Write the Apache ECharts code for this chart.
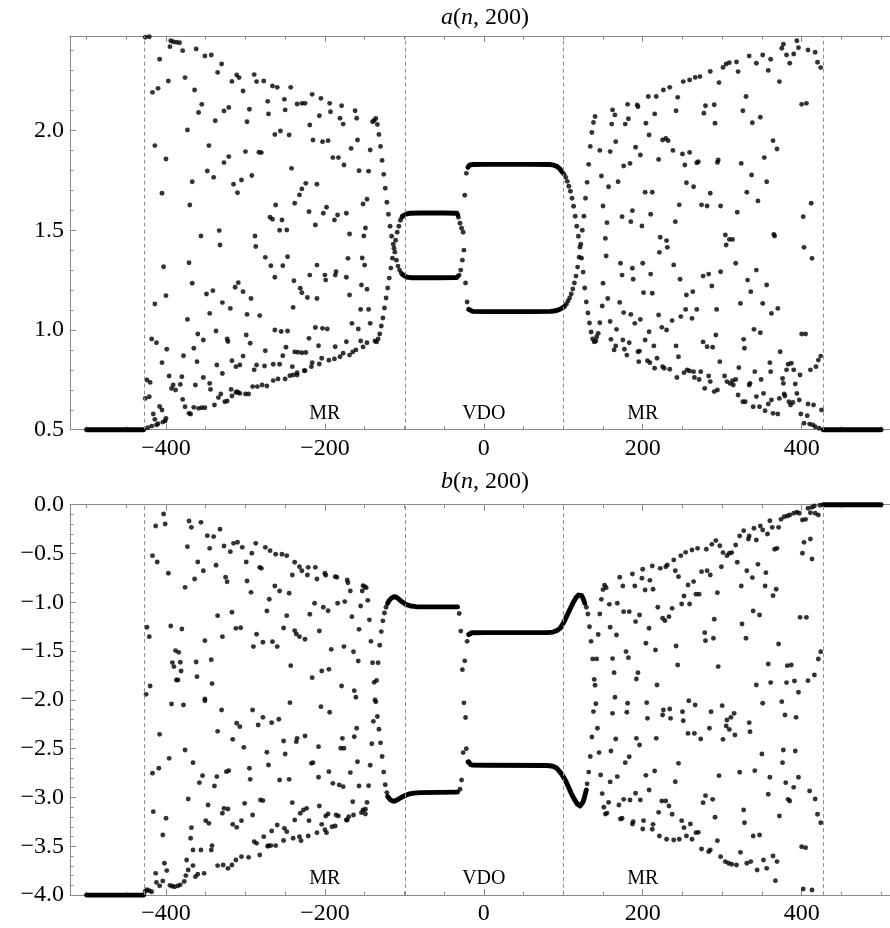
<!DOCTYPE html>
<html><head><meta charset="utf-8">
<script src="https://cdn.jsdelivr.net/npm/echarts@6/dist/echarts.min.js"></script>
<style>html,body{margin:0;padding:0;background:#fff}#c{width:890px;height:928px}</style>
</head><body><div id="c"></div>
<script>
// ---------------- axis / tick data ----------------
const xMin = -520.8, xMax = 511.2;
const xMajor = [-400, -200, 0, 200, 400];
const xMinor = [-500, -450, -350, -300, -250, -150, -100, -50, 50, 100, 150, 250, 300, 350, 450, 500];
const aMin = 0.5, aMax = 2.4735;
const aMajor = [0.5, 1.0, 1.5, 2.0];
const aMinor = [0.6, 0.7, 0.8, 0.9, 1.1, 1.2, 1.3, 1.4, 1.6, 1.7, 1.8, 1.9, 2.1, 2.2, 2.3, 2.4];
const bMin = -4, bMax = 0;
const bMajor = [-4, -3.5, -3, -2.5, -2, -1.5, -1, -0.5, 0];
const bMinor = [-3.9, -3.8, -3.7, -3.6, -3.4, -3.3, -3.2, -3.1, -2.9, -2.8, -2.7, -2.6, -2.4, -2.3, -2.2, -2.1, -1.9, -1.8, -1.7, -1.6, -1.4, -1.3, -1.2, -1.1, -0.9, -0.8, -0.7, -0.6, -0.4, -0.3, -0.2, -0.1];
const regionBounds = [-427.5, -99.5, 99.5, 427.5];
const regionNames = ['MR', 'VDO', 'MR'];
const regionCenters = [-200, 0, 200];

// ---------------- a(n,200) ----------------
const aFlatLeft = [[-500, 0.5], [-428, 0.5]];
const aFlatRight = [[427, 0.5], [500, 0.5]];
const aLoopLeftUpper = [[-102, 1.572], [-100, 1.578], [-97, 1.582], [-93, 1.585], [-80, 1.586], [-50, 1.586], [-34, 1.585], [-33, 1.578]];
const aLoopLeftLower = [[-102, 1.277], [-100, 1.27], [-97, 1.265], [-92, 1.262], [-60, 1.262], [-34, 1.263], [-33, 1.268]];
const aLoopRightUpper = [[-20, 1.815], [-18, 1.826], [-15, 1.829], [0, 1.83], [60, 1.83], [84, 1.829], [88, 1.826], [92, 1.82], [96, 1.806], [99, 1.79]];
const aLoopRightLower = [[-19, 1.103], [-17, 1.096], [-14, 1.093], [0, 1.092], [60, 1.092], [84, 1.093], [88, 1.095], [92, 1.098], [96, 1.104], [100, 1.113]];
const aSteep = [
 [-138,2.05],[-136,2.06],[-134,2.03],[-132,1.98],[-130,1.92],[-128,1.85],[-126,1.78],[-124,1.71],[-122,1.64],[-120,1.58],[-118,1.52],[-116,1.47],[-114,1.43],[-112,1.39],[-110,1.35],[-108,1.32],[-106,1.30],[-104,1.285],
 [-137,0.945],[-135,0.94],[-133,0.955],[-131,0.98],[-129,1.02],[-127,1.06],[-125,1.11],[-123,1.16],[-121,1.21],[-119,1.26],[-117,1.31],[-115,1.36],[-113,1.41],[-111,1.45],[-109,1.49],[-107,1.52],[-105,1.55],[-103,1.565],
 [-32,1.565],[-31,1.275],[-30,1.535],[-29,1.30],[-28,1.51],[-27,1.35],[-26,1.49],[-25,1.40],[-24,1.675],[-23,1.235],[-22,1.785],[-21,1.14],
 [101,1.78],[103,1.765],[105,1.745],[107,1.72],[109,1.695],[111,1.66],[113,1.62],[115,1.57],[117,1.52],[119,1.47],[121,1.415],[123,1.36],[125,1.29],[127,1.21],[129,1.14],[131,1.085],[133,1.035],[135,0.99],[137,0.955],[139,0.94],[141,0.945],
 [102,1.12],[104,1.13],[106,1.145],[108,1.16],[110,1.18],[112,1.205],[114,1.235],[116,1.27],[118,1.315],[120,1.365],[122,1.43],[124,1.50],[126,1.57],[128,1.66],[130,1.74],[132,1.83],[134,1.92],[136,1.99],[138,2.04],[140,2.07]
];
const aChaosLeft = [
 [-426,2.467],[-421,2.47],[-394,2.45],[-391,2.445],[-387,2.442],[-383,2.44],[-395,2.42],[-379,2.40],[-362,2.408],[-351,2.373],[-343,2.378],[-335,2.291],[-330,2.333],[-317,2.246],[-311,2.278],[-308,2.265],[-289,2.28],[-286,2.245],[-277,2.248],[-266,2.223],[-260,2.216],[-243,2.216],[-216,2.181],[-205,2.161],[-194,2.136],[-179,2.124],[-162,2.099],
 [-408,2.357],[-417,2.191],[-410,2.211],[-397,2.248],[-376,2.265],[-364,2.203],[-355,2.131],[-359,2.09],[-338,2.049],[-327,2.098],[-321,2.115],[-303,2.198],[-295,2.106],[-298,2.044],[-272,2.146],[-271,2.083],[-251,2.156],[-250,2.103],[-235,2.133],[-229,2.136],[-225,2.136],[-219,2.027],[-207,2.074],[-193,2.094],[-181,2.061],[-177,2.032],[-160,2.061],[-140,2.044],
 [-373,2.002],[-346,1.924],[-414,1.924],[-400,1.857],[-367,1.743],[-370,1.626],[-405,1.685],[-403,1.317],[-371,1.337],[-356,1.471],[-348,1.797],[-340,1.765],[-333,1.498],[-332,1.426],[-327,1.839],[-321,1.869],[-315,1.73],[-310,1.688],[-305,1.752],[-300,1.894],[-292,1.774],[-283,1.891],[-280,1.889],[-288,1.471],[-287,1.418],[-275,1.364],[-268,1.322],[-263,1.98],[-256,1.997],[-245,1.977],[-242,1.81],[-262,1.626],[-269,1.565],[-254,1.551],[-248,1.501],[-253,1.322],[-247,1.367],[-238,1.635],[-232,1.677],[-229,1.707],[-224,1.735],[-220,1.593],[-215,1.952],[-212,1.526],[-210,1.73],[-203,1.944],[-196,1.949],[-202,1.585],[-198,1.615],[-190,1.864],[-183,1.864],[-188,1.551],[-184,1.576],[-176,1.827],[-173,1.585],[-169,1.481],[-171,1.359],[-167,1.91],[-159,1.952],[-157,1.798],[-152,1.631],[-147,1.655],[-149,1.511],[-151,1.471],[-153,1.361],[-150,1.325],[-145,1.796],[-143,1.902],[-210,1.325],[-266,1.555],[-257,1.50],
 [-367,1.234],[-349,1.18],[-341,1.197],[-313,1.214],[-309,1.237],[-303,1.192],[-293,1.158],[-329,1.137],[-319,1.108],[-345,1.083],[-298,1.078],[-282,1.072],[-263,1.264],[-240,1.113],[-239,1.247],[-231,1.209],[-229,1.187],[-222,1.163],[-210,1.158],[-219,1.275],[-200,1.275],[-199,1.25],[-187,1.275],[-186,1.292],[-173,1.264],[-169,1.175],[-154,1.225],[-147,1.204],[-155,1.103],[-145,1.103],
 [-414,1.13],[-400,1.172],[-373,1.053],[-360,0.98],[-353,0.95],[-337,0.995],[-299,0.975],[-294,0.933],[-263,1.0],[-255,0.992],[-247,0.995],[-212,1.012],[-203,1.008],[-197,1.005],[-166,1.033],[-158,1.005],[-143,1.033],
 [-418,0.955],[-412,0.936],[-399,0.903],[-365,0.908],[-323,0.955],[-322,0.942],[-275,0.896],[-249,0.913],[-238,0.89],[-234,0.888],[-229,0.886],[-224,0.887],[-220,0.958],[-208,0.921],[-187,0.916],[-173,0.941],[-161,0.90],[-155,0.945],[-147,0.936],
 [-405,0.836],[-378,0.871],[-361,0.841],[-336,0.824],[-329,0.782],[-317,0.846],[-312,0.816],[-307,0.824],[-303,0.869],[-289,0.80],[-286,0.824],[-276,0.819],[-265,0.828],[-257,0.828],[-253,0.871],[-241,0.816],[-240,0.774],[-235,0.786],[-225,0.796],[-217,0.816],[-216,0.836],[-207,0.829],[-204,0.858],[-181,0.866],[-177,0.883],[-169,0.874],
 [-396,0.769],[-380,0.766],[-363,0.724],[-353,0.762],[-345,0.732],[-344,0.702],[-318,0.702],[-311,0.691],[-307,0.682],[-300,0.679],[-296,0.679],[-291,0.716],[-285,0.716],[-279,0.724],[-273,0.719],[-265,0.746],[-259,0.754],[-250,0.754],[-244,0.771],[-235,0.774],[-226,0.796],
 [-426,0.657],[-421,0.665],[-424,0.749],[-420,0.737],[-408,0.616],[-405,0.599],[-416,0.579],[-414,0.552],[-412,0.524],[-401,0.544],[-400,0.557],
 [-393,0.707],[-391,0.724],[-388,0.699],[-382,0.727],[-379,0.652],[-376,0.615],[-371,0.582],[-369,0.579],[-365,0.612],[-359,0.607],[-355,0.61],[-351,0.61],[-339,0.624],[-334,0.661],[-331,0.679],[-326,0.64],[-323,0.644],[-317,0.669],[-312,0.686],[-309,0.687],
 [-423,0.51],[-418,0.518],[-410,0.53],[-404,0.538],[-195,0.848],[-188,0.855],[-165,0.89],[-152,0.915]
];
const aChaosRight = [
 [394,2.45],[377,2.432],[375,2.412],[381,2.378],[390,2.383],[385,2.337],[396,2.415],[408,2.403],[417,2.392],[420,2.342],[424,2.315],
 [334,2.373],[343,2.337],[351,2.378],[361,2.357],[358,2.301],[372,2.245],[301,2.316],[305,2.333],[309,2.34],[318,2.343],[320,2.295],[296,2.24],[285,2.296],
 [272,2.27],[266,2.266],[259,2.253],[251,2.245],[244,2.166],[234,2.216],[226,2.203],[217,2.17],[207,2.17],[194,2.119],[193,2.128],[181,2.131],[162,2.103],[165,2.078],[178,2.032],[182,2.059],[161,2.032],
 [146,1.90],[159,1.894],[166,1.944],[191,1.916],[197,1.877],[204,2.036],[208,1.977],[215,2.083],[225,1.952],[229,1.96],[232,1.949],[238,1.90],[242,2.099],[250,1.882],[253,1.827],[259,1.89],[268,1.838],[270,1.843],[277,2.086],[279,2.124],[290,2.129],[291,2.036],[295,1.852],[324,1.835],[326,2.099],[330,2.17],[338,2.039],[348,2.066],[364,1.949],[369,1.907],[353,1.864],[400,2.131],[406,2.136],
 [148,1.772],[157,1.718],[169,1.743],[176,1.822],[184,1.835],[203,1.69],[212,1.69],[220,1.855],[255,1.738],[264,1.718],[285,1.685],[294,1.84],[331,1.69],[337,1.777],[345,1.647],[356,1.743],[365,1.479],[366,1.471],[412,1.635],[402,1.568],[403,1.414],[413,1.359],
 [150,1.621],[155,1.538],[174,1.568],[187,1.598],[185,1.543],[199,1.521],[210,1.58],[241,1.543],[246,1.627],[274,1.627],[281,1.621],[298,1.621],[319,1.59],[304,1.476],[309,1.454],[305,1.426],[313,1.454],
 [222,1.465],[230,1.448],[231,1.414],[221,1.389],[153,1.459],[154,1.371],[172,1.334],[187,1.309],[200,1.334],[239,1.326],[317,1.334],[343,1.30],
 [150,1.234],[174,1.275],[188,1.254],[210,1.28],[201,1.187],[212,1.184],[247,1.254],[276,1.27],[283,1.28],[287,1.22],[298,1.292],[332,1.25],[356,1.225],[336,1.192],[323,1.133],[351,1.133],[362,1.083],[370,1.108],[400,0.98],[405,0.98],
 [149,1.12],[156,1.158],[171,1.138],[176,1.087],[185,1.078],[190,1.033],[197,1.053],[220,1.075],[224,1.013],[230,1.0],[237,1.047],[248,1.067],[254,1.103],[262,1.058],[255,1.175],[263,1.192],[268,1.103],[293,1.103],[292,0.975],[276,0.94],[281,0.916],[288,0.913],[297,0.841],[327,0.953],[328,0.908],[340,1.003],[348,0.986],
 [142,0.966],[144,0.983],[146,1.036],
 [159,1.042],[167,1.003],[160,0.953],[164,0.90],[166,0.92],[175,0.95],[183,0.936],[177,0.903],[180,0.874],[194,0.891],[196,0.894],[203,0.95],[208,0.991],[214,0.92],[195,0.841],[206,0.846],[209,0.836],[218,0.858],[215,0.808],[225,0.816],[227,0.808],[234,0.803],[242,0.92],[245,0.866],[243,0.762],
 [252,0.786],[256,0.80],[259,0.794],[264,0.791],[265,0.762],[271,0.752],[273,0.791],[278,0.707],[283,0.769],[285,0.741],[290,0.691],[294,0.699],
 [303,0.769],[306,0.741],[310,0.732],[313,0.746],[317,0.752],[314,0.724],[320,0.674],[321,0.811],[326,0.64],[329,0.64],[334,0.724],[335,0.732],[339,0.615],[347,0.615],[341,0.791],[343,0.666],[349,0.752],[352,0.682],[354,0.595],[360,0.836],[361,0.791],[358,0.629],[362,0.649],[364,0.582],[370,0.579],[373,0.891],[372,0.657],[376,0.757],[377,0.732],[378,0.679],[379,0.669],[381,0.80],[383,0.828],[387,0.833],[384,0.64],[386,0.624],[389,0.636],[390,0.80],[392,0.729],[394,0.682],[397,0.649],[398,0.774],[399,0.579],[403,0.532],[407,0.57],[410,0.528],[411,0.80],[408,0.629],[415,0.624],[425,0.599],[414,0.524],[417,0.515],[422,0.507],[418,0.816],[421,0.849],[424,0.869]
];

// ---------------- b(n,200) ----------------
const bFlatLeft = [[-500, -4], [-428, -4]];
const bFlatRight = [[427, 0], [500, 0]];
const bLoopLeftUpper = [[-121, -1.01], [-119, -0.98], [-116, -0.955], [-113, -0.943], [-110, -0.948], [-107, -0.968], [-103, -0.995], [-98, -1.022], [-92, -1.038], [-85, -1.045], [-60, -1.047], [-33, -1.047]];
const bLoopLeftLower = [[-121, -2.99], [-118, -3.02], [-115, -3.036], [-112, -3.036], [-108, -3.02], [-104, -3.0], [-99, -2.98], [-94, -2.963], [-88, -2.955], [-80, -2.95], [-33, -2.945]];
const bLoopRightUpper = [[-19, -1.33], [-17, -1.315], [-15, -1.312], [0, -1.311], [80, -1.311], [87, -1.305], [92, -1.29], [96, -1.267], [100, -1.215], [104, -1.147], [108, -1.079], [112, -1.01], [116, -0.953], [119, -0.926], [121, -0.918], [123, -0.93], [125, -0.96], [127, -1.01]];
const bLoopRightLower = [[-19, -2.635], [-17, -2.66], [-14, -2.668], [0, -2.67], [80, -2.672], [87, -2.68], [92, -2.70], [94, -2.718], [97, -2.75], [100, -2.786], [103, -2.83], [106, -2.882], [110, -2.957], [114, -3.02], [118, -3.07], [121, -3.087], [123, -3.075], [125, -3.043], [127, -2.99], [129, -2.923]];
const bSteep = [
 [-148,-0.85],[-146,-0.98],[-144,-1.18],[-142,-1.40],[-140,-1.62],[-138,-1.82],[-136,-2.02],[-134,-2.17],[-132,-2.30],[-130,-2.44],[-128,-2.58],[-126,-2.74],[-124,-2.87],[-122,-2.95],
 [-149,-3.12],[-147,-3.05],[-145,-2.88],[-143,-2.67],[-141,-2.45],[-139,-2.22],[-137,-2.00],[-135,-1.80],[-133,-1.62],[-131,-1.44],[-129,-1.30],[-127,-1.19],[-125,-1.11],[-123,-1.05],
 [-31,-1.115],[-30,-2.915],[-29,-1.295],[-28,-2.82],[-27,-1.69],[-26,-2.54],[-25,-2.03],[-24,-1.60],[-23,-2.18],[-22,-2.50],[-21,-1.40],[-20,-2.635],
 [129,-1.05],[131,-1.12],[133,-1.25],[135,-1.40],[137,-1.58],[139,-1.79],[141,-2.04],[143,-2.29],[145,-2.54],[147,-2.77],[149,-2.96],[151,-3.10],[153,-3.17],[155,-3.16],[157,-3.05],[159,-2.84],
 [130,-2.86],[132,-2.74],[134,-2.58],[136,-2.38],[138,-2.12],[140,-1.85],[142,-1.58],[144,-1.33],[146,-1.12],[148,-0.97],[150,-0.87],[152,-0.825],[154,-0.85]
];
const bChaosLeft = [
 [-403,-0.095],[-413,-0.218],[-401,-0.198],[-371,-0.167],[-368,-0.232],[-356,-0.181],[-348,-0.317],[-340,-0.327],[-332,-0.252],
 [-417,-0.522],[-411,-0.587],[-397,-0.703],[-373,-0.43],[-376,-0.847],[-360,-0.587],[-364,-0.761],[-353,-0.676],[-345,-0.447],[-337,-0.621],[-327,-0.423],[-319,-0.481],[-325,-0.744],[-323,-0.789],[-315,-0.396],[-310,-0.385],[-304,-0.437],[-299,-0.587],[-292,-0.498],[-287,-0.396],[-298,-0.782],[-293,-0.898],[-282,-0.642],[-280,-0.652],
 [-275,-0.437],[-269,-0.471],[-262,-0.508],[-254,-0.508],[-248,-0.522],[-263,-0.833],[-257,-0.884],[-245,-0.908],[-241,-0.72],[-238,-0.59],[-232,-0.635],[-229,-0.676],[-222,-0.72],[-221,-0.642],[-212,-0.642],[-210,-0.761],[-200,-0.703],[-199,-0.723],[-187,-0.737],[-185,-0.744],[-172,-0.771],[-171,-0.799],[-152,-0.829],[-150,-0.84],
 [-168,-0.884],[-153,-0.884],[-175,-0.993],[-184,-1.01],[-196,-1.086],[-202,-1.051],[-213,-1.01],[-219,-1.123],[-207,-1.294],[-225,-1.379],[-232,-1.352],[-236,-1.325],[-238,-1.29],[-248,-1.137],[-252,-1.263],[-270,-0.969],[-273,-1.089],[-286,-1.328],[-278,-1.41],[-266,-1.403],[-260,-1.454],[-290,-1.454],[-306,-1.26],[-312,-1.267],[-317,-1.102],[-329,-1.352],[-335,-1.137],[-351,-1.393],[-343,-1.588],[-342,-1.833],[-351,-1.99],[-362,-1.611],[-361,-1.762],[-382,-1.615],[-381,-1.704],[-387,-1.796],[-385,-1.796],[-388,-1.495],[-384,-1.513],[-392,-1.618],[-390,-1.659],[-380,-1.273],[-394,-1.243],[-421,-1.352],[-424,-1.256],[-420,-1.857],[-425,-1.943],
 [-243,-1.649],[-216,-1.772],[-204,-1.704],[-195,-1.687],[-192,-1.482],[-179,-1.857],[-176,-1.454],[-164,-1.506],[-163,-1.905],[-161,-1.973],[-158,-1.601],[-166,-1.147],[-157,-1.277],[-155,-1.038],
 [-393,-2.042],[-378,-2.052],[-351,-2.008],[-330,-2.103],[-291,-2.103],[-244,-2.028],[-205,-2.069],[-194,-2.127],
 [-408,-2.353],[-417,-2.752],[-409,-2.701],[-396,-2.599],[-376,-2.513],[-366,-2.643],[-354,-2.776],[-358,-2.848],[-339,-2.882],[-335,-2.322],[-316,-2.404],[-311,-2.24],[-307,-2.274],[-302,-2.486],[-284,-2.257],[-278,-2.179],[-267,-2.233],[-258,-2.199],[-273,-2.537],[-271,-2.667],[-295,-2.701],[-294,-2.814],[-324,-2.735],[-321,-2.725],[-327,-3.111],[-329,-3.162],[-347,-3.077],[-350,-3.237],[-346,-3.265],[-322,-3.118],[-316,-3.275],[-311,-3.306],[-305,-3.237],[-301,-3.06],[-291,-3.179],[-289,-3.452],[-286,-3.47],[-281,-3.026],[-278,-3.032],[-277,-3.401],[-271,-3.493],[-268,-3.493],[-267,-3.343],[-262,-3.493],[-260,-3.282],[-257,-2.821],[-252,-2.421],[-250,-2.554],[-245,-2.814],[-251,-3.316],[-248,-3.35],[-241,-3.053],[-238,-3.23],[-231,-3.162],[-227,-3.128],[-223,-3.111],[-232,-3.401],[-240,-3.418],[-230,-3.442],[-221,-3.394],[-220,-3.237],[-217,-2.65],[-208,-2.793],[-207,-3.087],[-204,-3.275],[-199,-3.189],[-196,-3.169],[-198,-3.36],[-195,-2.735],[-190,-2.855],[-182,-2.872],[-177,-2.889],[-186,-3.179],[-183,-3.189],[-187,-3.292],[-180,-2.496],[-173,-3.23],[-170,-3.196],[-168,-2.745],[-165,-3.043],[-163,-2.377],[-160,-2.291],[-159,-2.633],[-157,-2.882],[-152,-3.128],[-149,-3.169],[-208,-2.479],[-236,-2.428],[-235,-2.394],[-225,-2.37],[-215,-2.643],[-178,-2.394],[-176,-2.496],[-336,-2.786],
 [-372,-3.015],[-368,-3.309],[-369,-3.418],[-366,-3.538],[-356,-3.538],[-342,-3.493],[-343,-3.538],[-374,-3.64],[-366,-3.698],[-416,-3.145],[-404,-3.384],[-400,-3.213],[-402,-3.674],[-399,-3.749],[-413,-3.777],[-372,-3.743],[-363,-3.811],[-360,-3.787],[-352,-3.777],
 [-335,-3.698],[-328,-3.691],[-322,-3.726],[-317,-3.691],[-312,-3.64],[-305,-3.606],[-296,-3.613],[-282,-3.589],[-272,-3.50],[-252,-3.44],[-210,-3.36],[-200,-3.33],[-191,-3.30],[-172,-3.23],[-164,-3.18],[-154,-3.155],
 [-426,-3.96],[-424,-3.945],[-421,-3.955],[-418,-3.965],[-412,-3.87],[-408,-3.905],[-404,-3.855],[-395,-3.90],[-392,-3.91],[-389,-3.915],[-385,-3.905],[-382,-3.895],[-377,-3.86],[-375,-3.80]
];
const bChaosRight = [
 [158,-1.021],[159,-1.256],[162,-1.577],[164,-1.721],[165,-1.973],[167,-1.335],[168,-1.01],[171,-0.744],[175,-0.833],[176,-1.096],[183,-1.096],[179,-1.505],[182,-1.567],[187,-0.71],[190,-0.833],[192,-1.786],[194,-1.721],[196,-1.13],[191,-1.198],[199,-0.754],[200,-0.662],[203,-0.874],[209,-0.775],[204,-1.42],[208,-1.266],[212,-0.628],[213,-0.867],[216,-1.488],[218,-1.847],[219,-1.051],[222,-0.652],[229,-0.635],[231,-0.618],[225,-1.164],[228,-1.188],[233,-1.147],[237,-1.062],[239,-0.567],[241,-0.676],[245,-0.737],[242,-1.447],[244,-1.642],[248,-0.522],[249,-1.017],[252,-0.935],[254,-0.488],[257,-0.823],[259,-1.017],[262,-0.464],[264,-0.788],[267,-0.918],[271,-0.918],[269,-0.447],[274,-0.686],[280,-0.457],[281,-0.676],[285,-0.72],[278,-1.311],[279,-1.393],[290,-1.174],[289,-1.369],[287,-0.406],[292,-0.368],[294,-0.901],[295,-1.659],[297,-0.42],[299,-0.635],[301,-0.491],[306,-0.522],[309,-0.498],[312,-0.491],[317,-0.413],[319,-0.59],[322,-0.32],[327,-0.266],[324,-0.833],[325,-1.222],[330,-1.369],[331,-0.676],[333,-0.351],[334,-0.32],[338,-0.747],[339,-1.089],[340,-0.242],[343,-0.362],[343,-1.847],[345,-0.611],[347,-1.13],[348,-0.218],[351,-0.259],[354,-0.833],[355,-0.696],[357,-0.30],[360,-0.164],[358,-1.632],[361,-1.823],[363,-0.232],[371,-0.232],[364,-0.932],[366,-0.457],[369,-0.447],[368,-0.867],[371,-1.427],[374,-0.15],[378,-0.123],[382,-0.116],[385,-0.106],[390,-0.088],[394,-0.078],[397,-0.088],[382,-1.649],[387,-1.642],[381,-1.823],[391,-1.806],[396,-1.922],[398,-1.154],[406,-1.154],[401,-0.498],[403,-0.386],[401,-0.157],[405,-0.15],[408,-0.037],[411,-0.082],[413,-0.027],[416,-0.013],[411,-0.351],[413,-0.556],[417,-0.088],[421,-0.106],[408,-1.803],[416,-1.745],[421,-1.581],[424,-1.506],[423,-0.005],
 [160,-2.524],[162,-2.138],[166,-2.401],[168,-2.786],[170,-3.077],[172,-3.22],[174,-3.213],[176,-3.019],[178,-2.643],[183,-2.582],[180,-2.127],[181,-2.035],[184,-3.026],[187,-3.271],[188,-3.248],[191,-2.957],[192,-2.394],[196,-2.462],[197,-3.026],[201,-3.237],[200,-3.323],[204,-2.773],[205,-2.028],[206,-2.189],[208,-2.923],[212,-3.326],[213,-3.275],[215,-2.728],[217,-2.394],[220,-3.152],[221,-3.394],[224,-3.036],[229,-3.036],[226,-2.103],[234,-2.093],[225,-2.155],[235,-2.189],[230,-3.428],[233,-3.087],[237,-3.172],[239,-3.435],[246,-3.428],[241,-2.838],[245,-2.65],[249,-3.237],[250,-2.121],[251,-2.213],[252,-3.309],[255,-3.394],[257,-2.343],[258,-2.008],[260,-3.271],[262,-3.428],[265,-2.343],[266,-2.052],[267,-3.36],[270,-3.357],[273,-2.401],[274,-3.528],[276,-3.053],[279,-2.981],[283,-3.555],[285,-3.538],[284,-2.291],[286,-2.121],[288,-3.019],[291,-3.203],[294,-3.442],[296,-2.776],[298,-3.606],[300,-2.059],[301,-2.404],[304,-3.657],[308,-3.674],[312,-3.684],[318,-3.691],[306,-2.206],[311,-2.179],[315,-2.138],[305,-2.267],[309,-2.302],[316,-2.36],[322,-2.742],[323,-3.562],[327,-3.128],[328,-3.258],[331,-3.674],[336,-3.657],[334,-2.233],[335,-2.326],[339,-3.394],[347,-3.384],[341,-2.725],[344,-3.743],[350,-2.554],[351,-2.035],[352,-3.64],[356,-3.726],[358,-2.967],[360,-2.793],[364,-3.599],[367,-3.852],[369,-3.657],[372,-3.189],[375,-2.018],[376,-2.643],[377,-2.513],[379,-2.155],[380,-2.848],[383,-3.019],[385,-3.036],[390,-2.896],[392,-2.524],[393,-2.179],[396,-2.793],[400,-3.504],[405,-3.514],[402,-3.937],[413,-3.947],[410,-2.933],[417,-3.015],[420,-3.172],[424,-3.258]
];

// ---------------- chart ----------------
const SERIF = "'Liberation Serif','Times New Roman',serif";
const AX = '#8a8a8a';
const DOT = 4.9;
const fmtX = v => (v < 0 ? '\u2212' : '') + Math.abs(v);
const fmtY = v => (v < 0 ? '\u2212' : '') + Math.abs(v).toFixed(1);

function xAxes(g) {
  const base = {type: 'value', gridIndex: g, min: xMin, max: xMax, splitLine: {show: false}};
  return [
    Object.assign({}, base, {position: 'bottom', axisLine: {show: true, onZero: false, lineStyle: {color: AX, width: 1}},
      axisTick: {show: true, inside: true, length: 6, customValues: xMajor, lineStyle: {color: AX}},
      axisLabel: {show: true, customValues: xMajor, formatter: fmtX, margin: 7, fontSize: 24, fontFamily: SERIF, color: '#000'}}),
    Object.assign({}, base, {position: 'bottom', axisLine: {show: false, onZero: false},
      axisTick: {show: true, inside: true, length: 3.5, customValues: xMinor, lineStyle: {color: AX}}, axisLabel: {show: false}}),
    Object.assign({}, base, {position: 'top', axisLine: {show: true, onZero: false, lineStyle: {color: AX, width: 1}},
      axisTick: {show: true, inside: true, length: 6, customValues: xMajor, lineStyle: {color: AX}}, axisLabel: {show: false}}),
    Object.assign({}, base, {position: 'top', axisLine: {show: false, onZero: false},
      axisTick: {show: true, inside: true, length: 3.5, customValues: xMinor, lineStyle: {color: AX}}, axisLabel: {show: false}})
  ];
}
function yAxes(g, min, max, major, minor) {
  const base = {type: 'value', gridIndex: g, min: min, max: max, position: 'left', splitLine: {show: false}};
  return [
    Object.assign({}, base, {axisLine: {show: true, onZero: false, lineStyle: {color: AX, width: 1}},
      axisTick: {show: true, inside: true, length: 6, customValues: major, lineStyle: {color: AX}},
      axisLabel: {show: true, customValues: major, formatter: fmtY, margin: 6, fontSize: 24, fontFamily: SERIF, color: '#000'}}),
    Object.assign({}, base, {axisLine: {show: false, onZero: false},
      axisTick: {show: true, inside: true, length: 3.5, customValues: minor, lineStyle: {color: AX}}, axisLabel: {show: false}})
  ];
}
function lineS(data, xi, yi) {
  return {type: 'line', data: data, xAxisIndex: xi, yAxisIndex: yi, symbol: 'none', showSymbol: false, clip: false, silent: true,
    lineStyle: {color: '#000', width: DOT, cap: 'round', join: 'round'}, z: 3};
}
function dotS(data, xi, yi, withBounds) {
  const s = {type: 'scatter', data: data, xAxisIndex: xi, yAxisIndex: yi, symbol: 'circle', symbolSize: DOT, clip: false, silent: true,
    itemStyle: {color: '#000'}, z: 4};
  if (withBounds) {
    s.markLine = {silent: true, symbol: ['none', 'none'], label: {show: false}, animation: false,
      lineStyle: {color: '#8f8f8f', type: [4, 3], width: 1}, emphasis: {disabled: true},
      data: regionBounds.map(x => ({xAxis: x}))};
  }
  return s;
}
function labelS(xi, yi, yVal) {
  return {type: 'scatter', xAxisIndex: xi, yAxisIndex: yi, symbol: 'circle', symbolSize: 2, silent: true, clip: false, z: 5,
    itemStyle: {color: 'rgba(255,255,255,0)'},
    data: regionCenters.map((n, i) => ({value: [n, yVal], name: regionNames[i]})),
    label: {show: true, position: 'inside', formatter: '{b}', color: '#000', fontFamily: SERIF, fontSize: 20, opacity: 1}};
}

const titleRich = {i: {fontStyle: 'italic', fontFamily: SERIF, fontSize: 24, color: '#000'}, r: {fontFamily: SERIF, fontSize: 24, color: '#000'}};
const option = {
  animation: false,
  backgroundColor: '#fff',
  title: [
    {text: '{i|a}{r|(}{i|n}{r|, 200)}', left: 485, top: 6, textAlign: 'center', padding: 0, textStyle: {fontFamily: SERIF, fontSize: 24, fontWeight: 'normal', color: '#000', rich: titleRich}},
    {text: '{i|b}{r|(}{i|n}{r|, 200)}', left: 485, top: 470, textAlign: 'center', padding: 0, textStyle: {fontFamily: SERIF, fontSize: 24, fontWeight: 'normal', color: '#000', rich: titleRich}}
  ],
  grid: [
    {left: 70, top: 36, width: 820, height: 393.7, containLabel: false, outerBoundsMode: 'none'},
    {left: 70, top: 504.7, width: 820, height: 390.4, containLabel: false, outerBoundsMode: 'none'}
  ],
  xAxis: xAxes(0).concat(xAxes(1)),
  yAxis: yAxes(0, aMin, aMax, aMajor, aMinor).concat(yAxes(1, bMin, bMax, bMajor, bMinor)),
  series: [
    lineS(aFlatLeft, 0, 0), lineS(aFlatRight, 0, 0),
    lineS(aLoopLeftUpper, 0, 0), lineS(aLoopLeftLower, 0, 0),
    lineS(aLoopRightUpper, 0, 0), lineS(aLoopRightLower, 0, 0),
    dotS(aSteep.concat(aChaosLeft, aChaosRight), 0, 0, true),
    labelS(0, 0, 0.579),
    lineS(bFlatLeft, 4, 2), lineS(bFlatRight, 4, 2),
    lineS(bLoopLeftUpper, 4, 2), lineS(bLoopLeftLower, 4, 2),
    lineS(bLoopRightUpper, 4, 2), lineS(bLoopRightLower, 4, 2),
    dotS(bSteep.concat(bChaosLeft, bChaosRight), 4, 2, true),
    labelS(4, 2, -3.835)
  ]
};
const chart = echarts.init(document.getElementById('c'), null, {renderer: 'canvas'});
chart.setOption(option);
</script>
</body></html>
